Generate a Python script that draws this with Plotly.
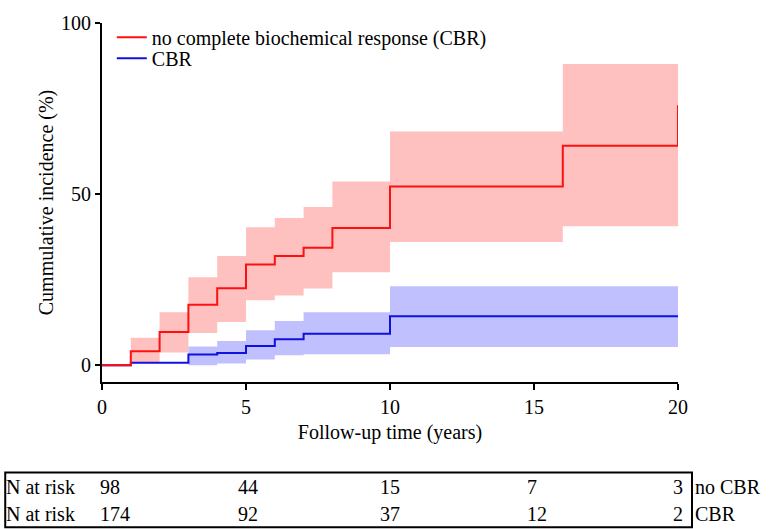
import plotly.graph_objects as go

# ---- data ----
nocbr_t = [0, 1, 2, 3, 4, 5, 6, 7, 8, 10, 16, 20, 20]
nocbr_ci = [0, 4.1, 9.7, 17.7, 22.5, 29.4, 31.9, 34.3, 40.1, 52.2, 64.1, 64.1, 76.0]
nocbr_band_t = [1, 2, 3, 4, 5, 6, 7, 8, 10, 16, 20]
nocbr_upper = [8.0, 15.5, 25.7, 31.9, 40.3, 43.0, 46.2, 53.7, 68.3, 88.0, 88.0]
nocbr_lower = [0.9, 3.7, 9.4, 12.6, 19.0, 20.4, 22.4, 27.2, 36.0, 40.6, 40.6]

cbr_t = [0, 1, 3, 4, 5, 6, 7, 10, 20]
cbr_ci = [0, 0.7, 3.1, 3.6, 5.6, 7.6, 9.2, 14.3, 14.3]
cbr_band_t = [3, 4, 5, 6, 7, 10, 20]
cbr_upper = [5.5, 7.1, 10.2, 12.9, 15.5, 23.1, 23.1]
cbr_lower = [0.0, 0.5, 1.7, 2.9, 3.2, 5.3, 5.3]

risk_times = [0, 5, 10, 15, 20]
risk_nocbr = [98, 44, 15, 7, 3]
risk_cbr = [174, 92, 37, 12, 2]

x_ticks = [0, 5, 10, 15, 20]
y_ticks = [0, 50, 100]

# ---- style ----
FONT = "Liberation Serif, Times New Roman, serif"
FS = 20
RED = "#FF1010"
BLUE = "#1010E0"
RED_FILL = "rgb(255,192,192)"
BLUE_FILL = "rgb(192,192,255)"
risk_xshift = [-2, -8, -10, -7, -5]

fig = go.Figure()

# bands
fig.add_trace(go.Scatter(x=nocbr_band_t, y=nocbr_lower, mode="lines", line=dict(width=0, shape="hv"),
                         showlegend=False, hoverinfo="skip"))
fig.add_trace(go.Scatter(x=nocbr_band_t, y=nocbr_upper, mode="lines", line=dict(width=0, shape="hv"),
                         fill="tonexty", fillcolor=RED_FILL, showlegend=False, hoverinfo="skip"))
fig.add_trace(go.Scatter(x=cbr_band_t, y=cbr_lower, mode="lines", line=dict(width=0, shape="hv"),
                         showlegend=False, hoverinfo="skip"))
fig.add_trace(go.Scatter(x=cbr_band_t, y=cbr_upper, mode="lines", line=dict(width=0, shape="hv"),
                         fill="tonexty", fillcolor=BLUE_FILL, showlegend=False, hoverinfo="skip"))

# curves
fig.add_trace(go.Scatter(x=cbr_t, y=cbr_ci, mode="lines", line=dict(color=BLUE, width=2, shape="hv"),
                         name="CBR", legend="legend2"))
fig.add_trace(go.Scatter(x=nocbr_t, y=nocbr_ci, mode="lines", line=dict(color=RED, width=2, shape="hv"),
                         name="no complete biochemical response (CBR)", legend="legend"))

# risk table
row_y = [-0.2936, -0.3684]
for yy, vals, lab in [(row_y[0], risk_nocbr, "no CBR"), (row_y[1], risk_cbr, "CBR")]:
    fig.add_annotation(text="N at risk", xref="paper", yref="paper", x=-0.171, y=yy,
                       xanchor="left", yanchor="middle", showarrow=False,
                       font=dict(family=FONT, size=FS, color="black"))
    for t, v, sh in zip(risk_times, vals, risk_xshift):
        fig.add_annotation(text=str(v), xref="x", yref="paper", x=t, y=yy, xshift=sh - 2,
                           xanchor="left", yanchor="middle", showarrow=False,
                           font=dict(family=FONT, size=FS, color="black"))
    fig.add_annotation(text=lab, xref="paper", yref="paper", x=1.026, y=yy,
                       xanchor="left", yanchor="middle", showarrow=False,
                       font=dict(family=FONT, size=FS, color="black"))

fig.add_shape(type="rect", xref="paper", yref="paper", x0=-0.168, x1=1.0243, y0=-0.2521, y1=-0.4044,
              line=dict(color="black", width=2), fillcolor="rgba(0,0,0,0)")

leg_common = dict(xanchor="left", yanchor="middle", bgcolor="rgba(0,0,0,0)",
                  font=dict(family=FONT, size=FS), itemwidth=30)
fig.update_layout(
    width=775, height=529,
    margin=dict(l=102, r=97, t=21, b=147),
    paper_bgcolor="white", plot_bgcolor="white",
    font=dict(family=FONT, size=FS, color="black"),
    legend=dict(x=0.017, y=0.960, **leg_common),
    legend2=dict(x=0.017, y=0.902, **leg_common),
    showlegend=True,
)
fig.update_xaxes(range=[0, 20], tickvals=x_ticks, showline=True, linecolor="black", linewidth=2,
                 ticks="outside", ticklen=6, tickwidth=2, tickcolor="black", showgrid=False, zeroline=False,
                 title=dict(text="Follow-up time (years)", font=dict(family=FONT, size=FS), standoff=8),
                 tickfont=dict(family=FONT, size=FS))
fig.update_yaxes(range=[-4.9, 100], tickvals=y_ticks, showline=True, linecolor="black", linewidth=2,
                 ticks="outside", ticklen=5, tickwidth=2, tickcolor="black", showgrid=False, zeroline=False,
                 title=dict(text="Cummulative incidence (%)", font=dict(family=FONT, size=FS), standoff=2),
                 tickfont=dict(family=FONT, size=FS))

fig.write_html("out.html")
